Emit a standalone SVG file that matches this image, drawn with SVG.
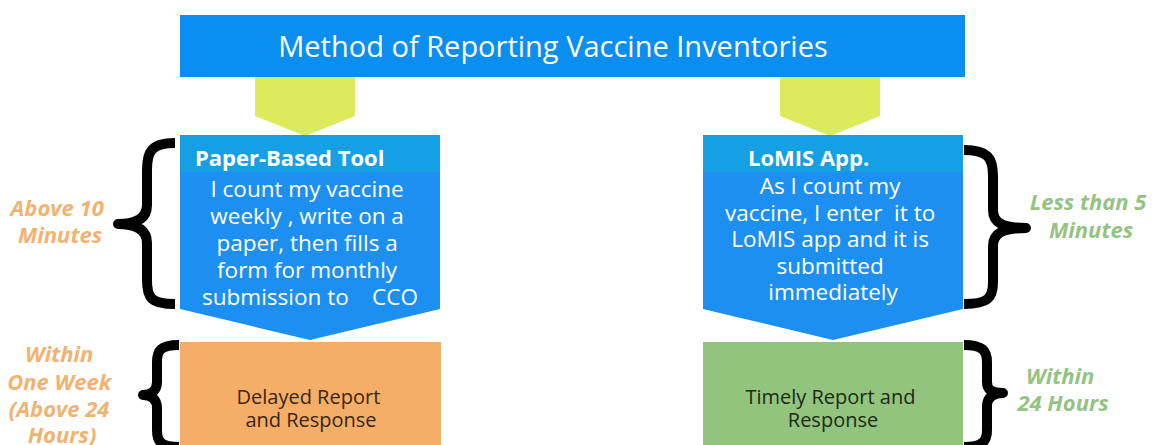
<svg xmlns="http://www.w3.org/2000/svg" width="1158" height="445" viewBox="0 0 1158 445">
  <style>
    .title { font-family: "Open Sans", "Liberation Sans", sans-serif; font-size: 29px; fill: #ffffff; }
    .head { font-family: "Open Sans", "Liberation Sans", sans-serif; font-size: 22px; font-weight: bold; fill: #ffffff; }
    .body { font-family: "Open Sans", "Liberation Sans", sans-serif; font-size: 22.5px; fill: #ffffff; }
    .out { font-family: "Open Sans", "Liberation Sans", sans-serif; font-size: 20px; }
    .lab { font-family: "Open Sans", "Liberation Sans", sans-serif; font-size: 22px; font-weight: bold; font-style: italic; }
    .brace { fill: none; stroke: #000000; stroke-width: 10; stroke-linecap: butt; stroke-linejoin: round; }
    .arrow { fill: #dcea5c; }
  </style>

  <rect width="1158" height="445" fill="#ffffff"/>

  <!-- heading bar -->
  <g id="title">
    <rect x="180" y="15" width="785" height="62" fill="#0a8ef0"/>
    <text class="title" x="553" y="57" text-anchor="middle">Method of Reporting Vaccine Inventories</text>
  </g>

  <!-- down arrows from heading to the two methods -->
  <g id="connectors">
    <polygon class="arrow" points="255,77 355,77 355,116 305,136 255,116"/>
    <polygon class="arrow" points="780,77 880,77 880,116 830,136 780,116"/>
  </g>

  <!-- paper-based method -->
  <g id="paper-tool">
    <polygon points="180,135 440,135 440,309 310,340 180,309" fill="#1c8ff0"/>
    <rect x="180" y="135" width="260" height="37" fill="#16a0e4"/>
    <text class="head" x="195" y="166">Paper-Based Tool</text>
    <text class="body" text-anchor="middle">
      <tspan x="310" y="197">I count my vaccine</tspan>
      <tspan x="310" y="224">weekly , write on a</tspan>
      <tspan x="310" y="251">paper, then fills a</tspan>
      <tspan x="310" y="278">form for monthly</tspan>
      <tspan x="310" y="305" xml:space="preserve">submission to    CCO</tspan>
    </text>
  </g>

  <!-- LoMIS method -->
  <g id="lomis-app">
    <polygon points="703,135 963,135 963,309 833,340 703,309" fill="#1c8ff0"/>
    <rect x="703" y="135" width="260" height="37" fill="#16a0e4"/>
    <text class="head" x="748" y="166">LoMIS App.</text>
    <text class="body" text-anchor="middle">
      <tspan x="833" y="194">As I count my</tspan>
      <tspan x="833" y="221" xml:space="preserve">vaccine, I enter  it to</tspan>
      <tspan x="833" y="247">LoMIS app and it is</tspan>
      <tspan x="833" y="274">submitted</tspan>
      <tspan x="833" y="300">immediately</tspan>
    </text>
  </g>

  <!-- outcomes -->
  <g id="delayed">
    <rect x="180" y="342" width="261" height="110" fill="#f4ae68"/>
    <text class="out" fill="#3a2614" text-anchor="middle">
      <tspan x="311" y="404">Delayed Report</tspan>
      <tspan x="311" y="427">and Response</tspan>
    </text>
  </g>

  <g id="timely">
    <rect x="703" y="342" width="260" height="110" fill="#93c47d"/>
    <text class="out" fill="#1a2a14" text-anchor="middle">
      <tspan x="833" y="404">Timely Report and</tspan>
      <tspan x="833" y="427">Response</tspan>
    </text>
  </g>

  <!-- braces -->
  <g id="braces">
    <path class="brace" d="M175,143 C151,143 147,152 147,170 L147,205 C147,218 137,224 118,224 C137,224 147,230 147,243 L147,280 C147,298 151,304 175,304"/>
    <path class="brace" d="M179,345 C160,345 157,351 157,362 L157,382 C157,390 152,395 143,395 C152,395 157,400 157,408 L157,430 C157,441 160,447 179,447"/>
    <path class="brace" d="M964,150 C988,150 993,158 993,176 L993,210 C993,223 1003,228 1026,228 C1003,228 993,233 993,246 L993,282 C993,298 988,304 964,304"/>
    <path class="brace" d="M964,345 C983,345 987,351 987,362 L987,382 C987,390 992,393 1003,393 C992,393 987,398 987,406 L987,430 C987,441 983,447 964,447"/>
  </g>

  <!-- time labels -->
  <g id="label-paper-time">
    <text class="lab" fill="#f2b272" text-anchor="middle">
      <tspan x="60" y="216">Above 10</tspan>
      <tspan x="60" y="243">Minutes</tspan>
    </text>
  </g>
  <g id="label-lomis-time">
    <text class="lab" fill="#94c384" text-anchor="middle">
      <tspan x="1091" y="210">Less than 5</tspan>
      <tspan x="1091" y="238">Minutes</tspan>
    </text>
  </g>
  <g id="label-delayed-time">
    <text class="lab" fill="#f2b272" text-anchor="middle">
      <tspan x="62" y="362">Within</tspan>
      <tspan x="62" y="390">One Week</tspan>
      <tspan x="62" y="417">(Above 24</tspan>
      <tspan x="62" y="443">Hours)</tspan>
    </text>
  </g>
  <g id="label-timely-time">
    <text class="lab" fill="#94c384" text-anchor="middle">
      <tspan x="1063" y="384">Within</tspan>
      <tspan x="1063" y="411">24 Hours</tspan>
    </text>
  </g>
</svg>
